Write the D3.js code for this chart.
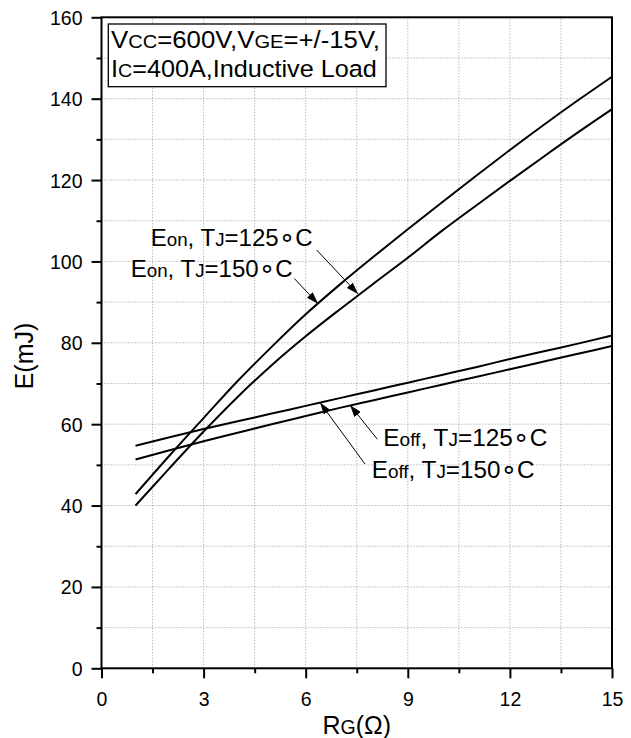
<!DOCTYPE html>
<html><head><meta charset="utf-8">
<script src="https://cdn.jsdelivr.net/npm/d3@7"></script>
<style>body{margin:0;background:#fff;} text{font-family:"Liberation Sans",Arial,Helvetica,sans-serif;fill:#000;}</style>
</head><body><svg id="c" width="631" height="738"></svg>
<script>
// ---- data ----
const rg      = [1, 2, 3, 4, 5, 6, 7, 8, 9, 10, 11, 12, 13, 14, 15];
const eon150  = [42.8, 52.3, 61.5, 70.6, 79.0, 87.0, 94.3, 101.2, 107.9, 114.5, 121.0, 127.4, 133.6, 139.6, 145.4];
const eon125  = [40.0, 49.2, 58.2, 66.7, 74.5, 81.6, 88.2, 94.6, 100.9, 107.5, 113.7, 119.8, 125.8, 131.7, 137.4];
const eoff150 = [54.7, 56.8, 58.8, 60.7, 62.6, 64.5, 66.4, 68.3, 70.2, 72.1, 74.0, 76.0, 77.9, 79.8, 81.8];
const eoff125 = [51.3, 53.6, 55.8, 57.9, 60.0, 62.0, 64.0, 65.9, 67.8, 69.7, 71.6, 73.5, 75.4, 77.3, 79.2];
const xTicks = [0, 3, 6, 9, 12, 15];
const xMinor = [1.5, 4.5, 7.5, 10.5, 13.5];
const yTicks = [0, 20, 40, 60, 80, 100, 120, 140, 160];
const yMinor = [10, 30, 50, 70, 90, 110, 130, 150];
const series = [eon150, eon125, eoff150, eoff125];

// ---- layout ----
const svg = d3.select("#c");
const x = d3.scaleLinear().domain([0, 15]).range([101.5, 612]);
const y = d3.scaleLinear().domain([0, 160]).range([668.3, 17.3]);
const SUB = 0.78;

// grid
const grid = svg.append("g").attr("stroke", "#9a9a9a").attr("stroke-width", 1).attr("stroke-dasharray", "1,2");
d3.range(1.5, 15, 1.5).forEach(v => grid.append("line")
  .attr("x1", x(v)).attr("x2", x(v)).attr("y1", y(0)).attr("y2", y(160)));
d3.range(10, 160, 10).forEach(v => grid.append("line")
  .attr("y1", y(v)).attr("y2", y(v)).attr("x1", x(0)).attr("x2", x(15)));

// curves
const line = d3.line().x((d, i) => x(rg[i])).y(d => y(d)).curve(d3.curveMonotoneX);
series.forEach(s => svg.append("path").attr("d", line(s))
  .attr("fill", "none").attr("stroke", "#000").attr("stroke-width", 2));

// frame
svg.append("rect").attr("x", x(0)).attr("y", y(160)).attr("width", x(15) - x(0)).attr("height", y(0) - y(160))
  .attr("fill", "none").attr("stroke", "#000").attr("stroke-width", 2);

// axes
function styleAxis(g) { g.select(".domain").remove(); g.selectAll("line").attr("stroke", "#000").attr("stroke-width", 2); }
const yAx = svg.append("g").attr("transform", `translate(${x(0)},0)`)
  .call(d3.axisLeft(y).tickValues(yTicks).tickSize(10).tickSizeOuter(0).tickPadding(9).tickFormat(d3.format("d")));
styleAxis(yAx);
yAx.selectAll("text").attr("font-size", 19.5).attr("font-family", "Liberation Sans, Arial, sans-serif").attr("dy", "0.36em");
const yAxm = svg.append("g").attr("transform", `translate(${x(0)},0)`)
  .call(d3.axisLeft(y).tickValues(yMinor).tickSize(5).tickSizeOuter(0).tickFormat(""));
styleAxis(yAxm);

const xAx = svg.append("g").attr("transform", `translate(0,${y(0)})`)
  .call(d3.axisBottom(x).tickValues(xTicks).tickSize(10).tickSizeOuter(0).tickFormat(d3.format("d")));
styleAxis(xAx);
xAx.selectAll("text").attr("font-size", 19.5).attr("font-family", "Liberation Sans, Arial, sans-serif")
  .attr("y", 38).attr("dy", 0);
const xAxm = svg.append("g").attr("transform", `translate(0,${y(0)})`)
  .call(d3.axisBottom(x).tickValues(xMinor).tickSize(5).tickSizeOuter(0).tickFormat(""));
styleAxis(xAxm);

// rich text helper: parts = [[string, sizeFactor, family]]
function rich(parent, parts, size, px, py, targetW, anchor) {
  const g = parent.append("g");
  const t = g.append("text").attr("font-size", size);
  parts.forEach(p => {
    const ts = t.append("tspan").text(p[0]).attr("font-size", size * p[1]);
    if (p[2]) ts.attr("font-family", p[2]);
  });
  const w = t.node().getComputedTextLength();
  const sx = targetW ? targetW / w : 1;
  const ox = anchor === "middle" ? -w / 2 : 0;
  t.attr("x", ox);
  g.attr("transform", `translate(${px},${py}) scale(${sx},1)`);
  return g;
}

// axis titles
rich(svg, [["R", 1], ["G", SUB], ["(Ω)", 1]], 25, (x(0) + x(15)) / 2, 734, null, "middle");
const yt = svg.append("g").attr("transform", "translate(33,356) rotate(-90)");
yt.append("text").attr("font-size", 25).attr("text-anchor", "middle").text("E(mJ)");

// condition box
svg.append("rect").attr("x", 108.3).attr("y", 24).attr("width", 277.7).attr("height", 62.7)
  .attr("fill", "#fff").attr("stroke", "#000").attr("stroke-width", 1.3);
rich(svg, [["V", 1], ["CC", SUB], ["=600V,V", 1], ["GE", SUB], ["=+/-15V,", 1]], 23.5, 111, 47.5, 269);
rich(svg, [["I", 1], ["C", SUB], ["=400A,Inductive Load", 1]], 23.5, 111, 77, 266);

// annotations (positions in data units)
const deg = t => [[t, 1], ["\u2218", 1.1, "DejaVu Sans"], ["C", 1]];
const notes = [
  { parts: [["E", 1], ["on", SUB], [", T", 1], ["J", SUB], ...deg("=125")], lx: 1.446, ly: 103.8, w: 162, a0: [6.324, 102.8], a1: [7.537, 92.0] },
  { parts: [["E", 1], ["on", SUB], [", T", 1], ["J", SUB], ...deg("=150")], lx: 0.858, ly: 96.2, w: 162, a0: [5.666, 95.8], a1: [6.362, 89.6] },
  { parts: [["E", 1], ["off", SUB], [", T", 1], ["J", SUB], ...deg("=125")], lx: 8.281, ly: 54.7, w: 164, a0: [8.105, 56.3], a1: [7.302, 64.7] },
  { parts: [["E", 1], ["off", SUB], [", T", 1], ["J", SUB], ...deg("=150")], lx: 7.940, ly: 46.7, w: 163, a0: [7.743, 50.2], a1: [6.421, 65.3] }
];
svg.append("defs").append("marker").attr("id", "ah").attr("viewBox", "0 0 12 8")
  .attr("refX", 12).attr("refY", 4).attr("markerWidth", 12).attr("markerHeight", 8)
  .attr("markerUnits", "userSpaceOnUse").attr("orient", "auto")
  .append("path").attr("d", "M0,0 L12,4 L0,8 Z").attr("fill", "#000");
notes.forEach(n => {
  rich(svg, n.parts, 23.5, x(n.lx), y(n.ly), n.w);
  svg.append("line").attr("x1", x(n.a0[0])).attr("y1", y(n.a0[1])).attr("x2", x(n.a1[0])).attr("y2", y(n.a1[1]))
    .attr("stroke", "#000").attr("stroke-width", 1).attr("marker-end", "url(#ah)");
});
</script></body></html>
